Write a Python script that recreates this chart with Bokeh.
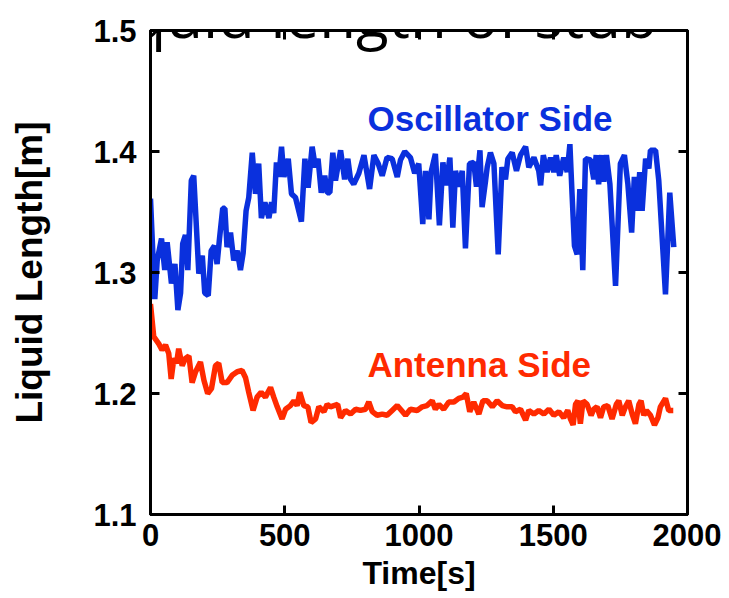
from bokeh.plotting import figure
from bokeh.models import LinearAxis, Label, Range1d, FixedTicker
from bokeh.embed import file_html
from bokeh.resources import INLINE

# Oscillator side (blue) : time [s], liquid length [m]
osc_t = [0, 16, 25, 41, 53, 62, 78, 91, 102, 112, 120, 130, 139, 152, 161, 180, 193, 202, 215, 226,
         238, 248, 257, 269, 277, 285, 298, 310, 323, 335, 345, 356, 366, 379, 391, 403, 413, 426, 441, 451,
         459, 469, 478, 488, 497, 513, 525, 540, 562, 575, 587, 602, 614, 624, 636, 649, 658, 668, 679, 689,
         708, 723, 735, 745, 757, 776, 795, 816, 832, 848, 863, 881, 900, 919, 931, 947, 968, 984, 999, 1014,
         1024, 1037, 1045, 1061, 1076, 1089, 1101, 1115, 1126, 1136, 1148, 1161, 1173, 1188, 1204, 1214, 1227, 1235, 1248, 1254,
         1266, 1279, 1295, 1309, 1322, 1331, 1347, 1363, 1378, 1397, 1409, 1428, 1446, 1453, 1463, 1477, 1490, 1502, 1511, 1524,
         1539, 1552, 1562, 1570, 1579, 1589, 1599, 1610, 1620, 1639, 1651, 1660, 1669, 1680, 1688, 1698, 1711, 1732, 1750, 1765,
         1778, 1792, 1802, 1812, 1822, 1831, 1844, 1856, 1862, 1881, 1893, 1918, 1934, 1949]
osc_y = [1.361, 1.278, 1.310, 1.328, 1.302, 1.325, 1.291, 1.307, 1.269, 1.283, 1.324, 1.331, 1.302, 1.376, 1.380, 1.299, 1.314, 1.283, 1.281, 1.318,
         1.322, 1.307, 1.328, 1.353, 1.353, 1.321, 1.333, 1.310, 1.318, 1.302, 1.316, 1.351, 1.362, 1.399, 1.365, 1.390, 1.345, 1.358, 1.345, 1.358,
         1.349, 1.391, 1.379, 1.404, 1.379, 1.394, 1.365, 1.362, 1.342, 1.394, 1.370, 1.404, 1.387, 1.394, 1.366, 1.380, 1.366, 1.366, 1.399, 1.376,
         1.401, 1.377, 1.394, 1.377, 1.373, 1.382, 1.397, 1.369, 1.397, 1.390, 1.380, 1.395, 1.394, 1.379, 1.393, 1.400, 1.395, 1.382, 1.390, 1.340,
         1.384, 1.344, 1.383, 1.398, 1.339, 1.391, 1.372, 1.395, 1.337, 1.384, 1.371, 1.384, 1.320, 1.390, 1.391, 1.371, 1.401, 1.354, 1.376, 1.387,
         1.399, 1.390, 1.315, 1.387, 1.377, 1.394, 1.399, 1.384, 1.397, 1.404, 1.387, 1.395, 1.384, 1.372, 1.397, 1.383, 1.395, 1.383, 1.397, 1.380,
         1.395, 1.383, 1.406, 1.365, 1.322, 1.315, 1.369, 1.302, 1.394, 1.393, 1.377, 1.397, 1.373, 1.397, 1.375, 1.397, 1.373, 1.289, 1.390, 1.397,
         1.373, 1.333, 1.379, 1.351, 1.383, 1.351, 1.394, 1.386, 1.401, 1.401, 1.376, 1.282, 1.366, 1.321]

# Antenna side (red)
ant_t = [0, 12, 31, 43, 56, 68, 77, 87, 97, 105, 118, 130, 143, 155, 168, 186, 199, 213, 227, 242,
         254, 267, 285, 304, 323, 341, 354, 366, 382, 397, 412, 428, 447, 459, 472, 490, 503, 521, 534, 546,
         556, 571, 586, 598, 615, 627, 646, 658, 670, 683, 697, 708, 726, 745, 764, 782, 801, 813, 826, 844,
         863, 881, 900, 919, 931, 950, 968, 993, 1012, 1030, 1049, 1061, 1074, 1092, 1111, 1130, 1148, 1164, 1176, 1189,
         1204, 1223, 1238, 1254, 1273, 1291, 1310, 1328, 1347, 1359, 1378, 1397, 1409, 1428, 1446, 1465, 1484, 1502, 1521, 1539,
         1554, 1564, 1574, 1583, 1592, 1601, 1611, 1626, 1641, 1651, 1663, 1676, 1688, 1703, 1719, 1735, 1744, 1757, 1769, 1781,
         1794, 1806, 1819, 1827, 1837, 1847, 1862, 1877, 1890, 1899, 1918, 1930, 1947]
ant_y = [1.274, 1.247, 1.241, 1.236, 1.240, 1.233, 1.212, 1.229, 1.225, 1.237, 1.223, 1.229, 1.231, 1.209, 1.218, 1.226, 1.211, 1.200, 1.204, 1.223,
         1.225, 1.209, 1.209, 1.215, 1.218, 1.219, 1.213, 1.201, 1.186, 1.197, 1.201, 1.197, 1.205, 1.197, 1.189, 1.179, 1.187, 1.190, 1.194, 1.190,
         1.201, 1.190, 1.189, 1.176, 1.179, 1.189, 1.185, 1.191, 1.189, 1.190, 1.191, 1.180, 1.186, 1.183, 1.187, 1.186, 1.187, 1.193, 1.185, 1.182,
         1.183, 1.182, 1.186, 1.190, 1.187, 1.182, 1.187, 1.186, 1.189, 1.190, 1.194, 1.187, 1.191, 1.187, 1.193, 1.193, 1.196, 1.197, 1.200, 1.185,
         1.193, 1.183, 1.194, 1.194, 1.189, 1.194, 1.190, 1.189, 1.189, 1.185, 1.187, 1.178, 1.186, 1.183, 1.186, 1.183, 1.187, 1.182, 1.185, 1.180,
         1.186, 1.179, 1.174, 1.191, 1.194, 1.175, 1.194, 1.191, 1.182, 1.187, 1.189, 1.180, 1.189, 1.190, 1.179, 1.191, 1.194, 1.182, 1.189, 1.194,
         1.183, 1.175, 1.191, 1.194, 1.182, 1.186, 1.182, 1.174, 1.180, 1.189, 1.196, 1.186, 1.186]

x_ticks = [0, 500, 1000, 1500, 2000]
y_ticks = [1.1, 1.2, 1.3, 1.4, 1.5]

BLUE = "#0a30dd"
RED = "#ff2a00"
FONT = "Liberation Sans"

p = figure(width=721, height=590, frame_width=537, frame_height=484,
           x_range=Range1d(0, 2000), y_range=Range1d(1.1, 1.5),
           output_backend="svg", toolbar_location=None,
           min_border_left=150, min_border_top=30, min_border_right=34, min_border_bottom=76)
p.grid.visible = False
p.outline_line_color = "black"
p.outline_line_width = 3
p.background_fill_color = "white"
p.border_fill_color = "white"

p.line(osc_t, osc_y, line_color=BLUE, line_width=5.5)
p.line(ant_t, ant_y, line_color=RED, line_width=5.5)

p.add_layout(LinearAxis(), "above")
p.add_layout(LinearAxis(), "right")

for ax in p.xaxis + p.yaxis:
    ax.major_tick_in = 9
    ax.major_tick_out = 0
    ax.minor_tick_line_color = None
    ax.major_tick_line_width = 3
    ax.major_tick_line_color = "black"
    ax.axis_line_width = 3
    ax.axis_line_color = "black"
    ax.major_label_text_font = FONT
    ax.major_label_text_font_style = "bold"
    ax.major_label_text_font_size = "31px"
    ax.major_label_text_color = "black"

for ax in p.xaxis:
    ax.ticker = FixedTicker(ticks=x_ticks)
for ax in p.yaxis:
    ax.ticker = FixedTicker(ticks=y_ticks)

p.above[0].major_label_overrides = {t: "" for t in x_ticks}
p.right[0].major_label_overrides = {t: "" for t in y_ticks}
p.above[0].major_label_standoff = 0
p.right[0].major_label_standoff = 0

xb = p.below[0]
xb.axis_label = "Time[s]"
xb.major_label_standoff = 9
xb.axis_label_standoff = 6
yl = p.left[0]
yl.axis_label = "Liquid Length[m]"
yl.major_label_standoff = 14
yl.axis_label_standoff = 40
xb.axis_label_text_font_size = "32px"
yl.axis_label_text_font_size = "37px"
for ax in (xb, yl):
    ax.axis_label_text_font = FONT
    ax.axis_label_text_font_style = "bold"
    ax.axis_label_text_color = "black"

p.add_layout(Label(x=808, y=1.4275, text="Oscillator Side", text_color=BLUE,
                   text_font=FONT, text_font_style="bold", text_font_size="35px",
                   text_baseline="alphabetic"))
p.add_layout(Label(x=808, y=1.2237, text="Antenna Side", text_color=RED,
                   text_font=FONT, text_font_style="bold", text_font_size="35px",
                   text_baseline="alphabetic"))
p.add_layout(Label(x=849, y=1.5, y_offset=16,
                   text="liquid length of stub", text_color="black",
                   text_font="Open Sans", text_font_size="60px", text_align="center",
                   text_baseline="alphabetic"))

open("out.html", "w").write(file_html(p, INLINE))
